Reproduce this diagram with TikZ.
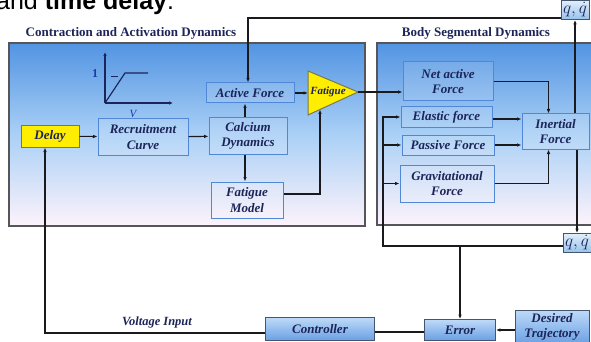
\documentclass[tikz,border=0pt]{standalone}
\usepackage{fontspec}
\setmainfont{Liberation Serif}
\newfontfamily\slidefont{Liberation Sans}
\usetikzlibrary{arrows.meta, calc, positioning}

\definecolor{navytext}{RGB}{28,36,88}
\definecolor{panelgray}{RGB}{85,85,90}
\definecolor{paneltop}{RGB}{82,148,226}
\definecolor{panelmid}{RGB}{170,208,246}
\definecolor{panelbottom}{RGB}{253,243,251}
\definecolor{blockline}{RGB}{80,135,215}
\definecolor{wireblack}{RGB}{25,25,30}
\definecolor{signalyellow}{RGB}{255,238,0}
\definecolor{yellowline}{RGB}{120,120,80}
\definecolor{btnlight}{RGB}{190,218,248}
\definecolor{btndark}{RGB}{105,160,228}
\definecolor{btnline}{RGB}{70,85,110}
\definecolor{statelight}{RGB}{225,238,250}
\definecolor{statedark}{RGB}{150,195,235}
\definecolor{plotblue}{RGB}{30,55,170}

\begin{document}
\begin{tikzpicture}[
    x=1pt, y=-1pt,
    % Define styles
    panel/.style={draw=panelgray, line width=1.2pt, top color=paneltop, bottom color=panelbottom, middle color=panelmid},
    paneltitle/.style={font=\fontsize{13}{15}\selectfont\bfseries, text=navytext, inner sep=0pt},
    block/.style={rectangle, draw=blockline, line width=1pt, fill=white, fill opacity=0.12, text opacity=1, text=navytext, font=\fontsize{13}{15.5}\selectfont\bfseries\itshape, align=center, inner sep=1pt},
    delaybox/.style={block, fill=signalyellow, fill opacity=1, draw=yellowline},
    button/.style={rectangle, draw=btnline, line width=0.8pt, top color=btnlight, bottom color=btndark, text=navytext, font=\fontsize{13}{15}\selectfont\bfseries\itshape, align=center, inner sep=1pt},
    statebox/.style={rectangle, draw=btnline, line width=0.8pt, top color=statelight, bottom color=statedark, text=navytext, font=\fontsize{16}{16}\selectfont, inner sep=0pt, minimum width=28pt, minimum height=19pt},
    arrow/.style={-{Latex[length=4.5pt,width=3.6pt]}, line width=1.1pt, draw=wireblack},
    link/.style={line width=1.1pt, draw=wireblack},
    ]

    \useasboundingbox (0,0) rectangle (591,342);
    \clip (0,0) rectangle (591,342);

    % Caption fragment
    \node[anchor=base west, font=\slidefont\fontsize{25}{28}\selectfont, inner sep=0pt] (caption) at (-4,9.5) {and \textbf{time delay}.};

    % Panels
    \draw[panel] (9,43) rectangle (365,226);
    \draw[panel] (377,43) rectangle (600,225);
    \node[paneltitle] (title_left) at (131,33) {Contraction and Activation Dynamics};
    \node[paneltitle] (title_right) at (476,33) {Body Segmental Dynamics};

    % Recruitment curve sketch
    \draw[-{Latex[length=4pt,width=3.5pt]}, line width=1.2pt, navytext] (105,103) -- (105,52);
    \draw[-{Latex[length=4pt,width=3.5pt]}, line width=1.2pt, navytext] (105,103) -- (173,103);
    \draw[line width=1.2pt, navytext] (105,103) -- (125,73) -- (148,73);
    \draw[line width=1pt, navytext] (111,77) -- (118,77);
    \node[font=\fontsize{12}{12}\selectfont\bfseries, text=plotblue] (one) at (95,74) {1};
    \node[font=\fontsize{11}{11}\selectfont\itshape, text=plotblue] (vlabel) at (133,114) {V};

    % Activation nodes
    \node[delaybox, minimum width=58pt, minimum height=22pt] (delay) at (50,136) {Delay};
    \node[block, minimum width=90pt, minimum height=36pt] (recruit) at (143,137) {Recruitment\\Curve};
    \node[block, minimum width=78pt, minimum height=36pt] (calcium) at (248,136) {Calcium\\Dynamics};
    \node[block, minimum width=88pt, minimum height=20pt] (active) at (250,93) {Active Force};
    \node[block, minimum width=72pt, minimum height=36pt] (fatmodel) at (247,200) {Fatigue\\Model};

    % Fatigue gain (triangle)
    \coordinate (tri_top) at (308,71);
    \coordinate (tri_tip) at (358,92);
    \coordinate (tri_bot) at (308,115);
    \coordinate (tri_w) at (308,93);
    \coordinate (tri_s) at (320,109.5);
    \filldraw[fill=signalyellow, draw=yellowline, line width=1pt] (tri_top) -- (tri_tip) -- (tri_bot) -- cycle;
    \node[font=\fontsize{11}{11}\selectfont\bfseries\itshape, text=navytext, inner sep=0pt] (fatigue) at (328,92) {Fatigue};

    % Segmental nodes
    \node[block, minimum width=90pt, minimum height=39pt] (netactive) at (448,81.5) {Net active\\Force};
    \node[block, minimum width=91pt, minimum height=20pt] (elastic) at (446.5,117) {Elastic force};
    \node[block, minimum width=92pt, minimum height=20pt] (passive) at (448,145) {Passive Force};
    \node[block, minimum width=94pt, minimum height=37pt] (grav) at (447,183.5) {Gravitational\\Force};
    \node[block, minimum width=67pt, minimum height=35pt] (inertial) at (555.5,131.5) {Inertial\\Force};

    % States
    \node[statebox] (qtop) at (575,10) {$q,\dot q$};
    \node[statebox] (qbot) at (577,243) {$q,\dot q$};

    % Control loop
    \node[button, minimum width=74pt, minimum height=34pt] (desired) at (552,327) {Desired\\Trajectory};
    \node[button, minimum width=71pt, minimum height=21pt] (error) at (460,330) {Error};
    \node[button, minimum width=109pt, minimum height=23pt] (controller) at (320,329) {Controller};
    \node[font=\fontsize{12.5}{13}\selectfont\bfseries\itshape, text=navytext] (voltage) at (157,322) {Voltage Input};

    % Arrows inside activation panel
    \draw[arrow] (delay) -- (recruit);
    \draw[arrow] (recruit) -- (calcium);
    \draw[arrow] ([xshift=-3pt]calcium.north) -- ([xshift=-5pt]active.south);
    \draw[arrow] ([xshift=-3pt]calcium.south) -- ([xshift=-2pt]fatmodel.north);
    \draw[arrow] (active.east) -- (tri_w);
    \draw[arrow] ([yshift=6pt]fatmodel.east) -| (tri_s);
    \draw[arrow] (tri_tip) -- (tri_tip -| netactive.west);

    % Arrows inside segmental panel
    \draw[arrow] (netactive.east) -| ([xshift=-7pt]inertial.north);
    \draw[arrow] ([yshift=-2pt]elastic.east) -- ([yshift=-2pt]elastic.east -| inertial.west);
    \draw[arrow] (passive.east) -- (passive.east -| inertial.west);
    \draw[arrow] (grav.east) -| ([xshift=-7pt]inertial.south);
    \draw[arrow] (inertial.north -| qtop.south) -- (qtop.south);
    \draw[arrow] (inertial.south -| qbot.north) -- (qbot.north);

    % Feedback wiring
    \draw[arrow] ([yshift=-8pt]qtop.west) -| ([xshift=-2pt]active.north);
    \coordinate (fb_corner) at (383,246);
    \draw[arrow] ([yshift=-3pt]qbot.west) -- (fb_corner) |- (elastic.west);
    \draw[arrow] (fb_corner |- passive.west) -- (passive.west);
    \draw[arrow] (fb_corner |- grav.west) -- (grav.west);
    \draw[arrow] (fb_corner -| error.north) -- (error.north);

    % Control loop wiring
    \draw[arrow] (desired.west |- error.east) -- (error.east);
    \draw[link] ([yshift=-2pt]error.west) -- ([yshift=-2pt]error.west -| controller.east);
    \draw[arrow] ([yshift=-4pt]controller.west) -| ([xshift=-5pt]delay.south);

\end{tikzpicture}
\end{document}
